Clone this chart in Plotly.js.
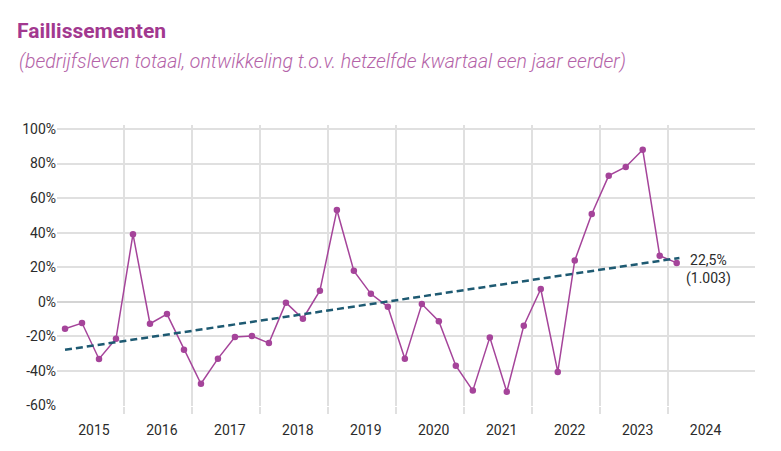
<!DOCTYPE html>
<html>
<head>
<meta charset="utf-8">
<script src="https://cdn.plot.ly/plotly-3.0.1.min.js"></script>
<style>
  html, body { margin: 0; padding: 0; background: #ffffff; }
  #chart { width: 781px; height: 451px; }
</style>
</head>
<body>
<div id="chart"></div>
<script>
// ---- Data ----
const years = [2015, 2016, 2017, 2018, 2019, 2020, 2021, 2022, 2023, 2024];
const quarterNumbers = [1, 2, 3, 4];
// Year-on-year change in bankruptcies per quarter, 2015 Q1 .. 2024 Q1 (%)
const changePct = [
  -15.6, -12.3, -33.1, -21.4,
   39.1, -12.7,  -7.1, -27.7,
  -47.4, -32.9, -20.4, -19.8,
  -23.9,  -0.5,  -9.8,   6.4,
   53.1,  17.9,   4.6,  -2.9,
  -32.9,  -1.3, -11.2, -37.0,
  -51.4, -20.6, -52.0, -13.9,
    7.4, -40.6,  23.9,  50.8,
   73.0,  78.0,  88.0,  26.7,
   22.5
];
// Linear trend: value at first and at last quarter (%)
const trendEnds = [-27.8, 25.4];
const lastCount = 1003;
const yTickValues = [-60, -40, -20, 0, 20, 40, 60, 80, 100];
const yTickLabels = ['-60%', '-40%', '-20%', '0%', '20%', '40%', '60%', '80%', '100%'];

// ---- Build quarter positions ----
const quarters = [];
years.forEach(y => quarterNumbers.forEach(q => quarters.push({ year: y, q: q })));
const used = quarters.slice(0, changePct.length);
const xPos = used.map(d => d.year + (d.q - 0.5) / 4);

const purple = '#a5449a';
const teal = '#1e5a72';
const gridCol = '#e0e0e0';

const lineTrace = {
  x: xPos,
  y: changePct,
  type: 'scatter',
  mode: 'lines+markers',
  line: { color: purple, width: 1.5 },
  marker: { color: purple, size: 6.5 },
  hoverinfo: 'skip',
  showlegend: false
};

const trendTrace = {
  x: [xPos[0], xPos[xPos.length - 1] + 0.04],
  y: trendEnds,
  type: 'scatter',
  mode: 'lines',
  line: { color: teal, width: 2.5, dash: '7px,4px' },
  hoverinfo: 'skip',
  showlegend: false
};

const lastVal = changePct[changePct.length - 1];
const fmtPct = v => v.toFixed(1).replace('.', ',') + '%';
const fmtCount = n => n.toLocaleString('de-DE');

const layout = {
  width: 781,
  height: 451,
  margin: { l: 57, r: 26, t: 125, b: 45 },
  paper_bgcolor: '#ffffff',
  plot_bgcolor: '#ffffff',
  font: { family: 'Roboto, sans-serif', size: 14, color: '#2b2b2b' },
  title: {
    text: '<b>Faillissementen</b>',
    font: { family: 'Roboto, sans-serif', size: 21, color: '#a2388f' },
    xref: 'container', x: 17 / 781, xanchor: 'left',
    yref: 'container', y: 1 - 31 / 451, yanchor: 'middle'
  },
  xaxis: {
    range: [2015.007, 2025.277],
    tickmode: 'array',
    tickvals: years.map(y => y + 0.55),
    ticktext: years.map(String),
    ticks: '',
    showgrid: false,
    zeroline: false,
    showline: false,
    ticklabelstandoff: 14,
    tickfont: { size: 14, color: '#2b2b2b' },
    minor: {
      tickmode: 'array',
      tickvals: years.slice(1),
      showgrid: true,
      gridcolor: gridCol,
      gridwidth: 2,
      ticks: 'outside',
      ticklen: 7,
      tickwidth: 2,
      tickcolor: gridCol
    },
    fixedrange: true
  },
  yaxis: {
    range: [-60.3, 102.3],
    tickmode: 'array',
    tickvals: yTickValues,
    ticktext: yTickLabels,
    ticks: '',
    showgrid: true,
    gridcolor: gridCol,
    gridwidth: 2,
    zeroline: true,
    zerolinecolor: '#d4d4d4',
    zerolinewidth: 2.5,
    showline: false,
    ticklabelstandoff: 0,
    tickfont: { size: 14, color: '#2b2b2b' },
    fixedrange: true
  },
  annotations: [
    {
      text: '(bedrijfsleven totaal, ontwikkeling t.o.v. hetzelfde kwartaal een jaar eerder)',
      xref: 'paper', yref: 'paper',
      x: (17 - 57) / 698, y: (406 - 61) / 281,
      xanchor: 'left', yanchor: 'middle',
      showarrow: false,
      font: { family: 'Roboto, sans-serif', size: 19.5, color: '#b463a8', style: 'italic', weight: 300 }
    },
    {
      text: fmtPct(lastVal) + '<br>(' + fmtCount(lastCount) + ')',
      x: xPos[xPos.length - 1], y: lastVal,
      xref: 'x', yref: 'y',
      xanchor: 'left', yanchor: 'middle',
      xshift: 7, yshift: -7,
      align: 'center',
      showarrow: false,
      font: { family: 'Roboto, sans-serif', size: 14, color: '#2b2b2b' }
    }
  ]
};

Plotly.newPlot('chart', [lineTrace, trendTrace], layout, { displayModeBar: false, staticPlot: true });
</script>
</body>
</html>
